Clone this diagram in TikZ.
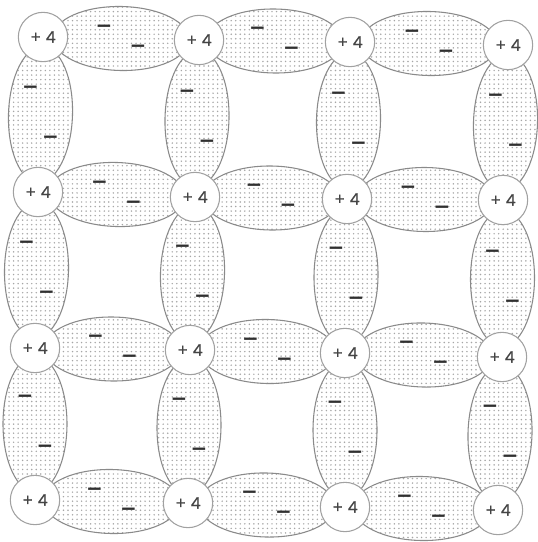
\documentclass[tikz,border=0pt]{standalone}
\usepackage{fontspec}
\newfontfamily\chargefont{Poppins}[FakeBold=0.6]
\newfontfamily\minusfont{DejaVu Sans}
\usetikzlibrary{calc,patterns.meta}
\definecolor{latLine}{HTML}{8A8A8A}
\definecolor{latDots}{HTML}{A6A6A6}
\definecolor{latText}{HTML}{444444}
\definecolor{latMinus}{HTML}{303030}
\pgfdeclarelayer{bonds}
\pgfsetlayers{bonds,main}

% stippled fill of the bonds
\tikzdeclarepattern{
  name=stipple,
  type=uncolored,
  bounding box={(-1.7pt,-1.7pt) and (1.7pt,1.7pt)},
  tile size={(3.4pt,3.4pt)},
  code={\pgfpathcircle{\pgfpointorigin}{0.62pt}\pgfusepath{fill}}
}

\tikzset{
  atom/.style={circle, draw=latLine!80, line width=0.8pt, fill=white,
    minimum size=37pt, inner sep=0pt, text=latText,
    font=\chargefont\fontsize{12}{13}\selectfont},
  bondfill/.style={draw=latLine, line width=0.8pt, preaction={fill=white},
    pattern=stipple, pattern color=latDots},
  electron/.style={inner sep=0pt, text=latMinus,
    font=\minusfont\bfseries\fontsize{15}{15}\selectfont}
}

% covalent bond: a lobe between two atoms holding its electron pair
% #3/#4 = offset of the two electrons from the middle of the lobe
\newcommand\bond[4]{%
  \begin{pgfonlayer}{bonds}
    \draw[bondfill] let \p1=($(#2)-(#1)$), \n1={atan2(\y1,\x1)} in
      ($(#1)!0.5!(#2)$) ellipse [x radius=68, y radius=32, rotate=\n1];
  \end{pgfonlayer}
  \node[electron] (#1#2m) at ($(#1)!0.5!(#2)+(-#3,-#4)$) {−};
  \node[electron] (#1#2p) at ($(#1)!0.5!(#2)+(#3,#4)$) {−};
}

\begin{document}
\begin{tikzpicture}[x=0.75pt, y=-0.75pt]
\useasboundingbox (0,0) rectangle (538,542);

% --- ATOMS (4 x 4 lattice) ---
\foreach \n/\xa/\ya in {a11/43/37, a12/199/40, a13/350/42, a14/508/45,
    a21/38/192, a22/195/197, a23/347/199, a24/503/200,
    a31/35/348, a32/190/350, a33/345/353, a34/502/357,
    a41/35/500, a42/188/503, a43/345/507, a44/498/510}
  \node[atom] (\n) at (\xa,\ya) {+\;4};

% --- HORIZONTAL BONDS ---
\foreach \a/\b in {a11/a12, a12/a13, a13/a14, a21/a22, a22/a23, a23/a24,
    a31/a32, a32/a33, a33/a34, a41/a42, a42/a43, a43/a44}
  \bond{\a}{\b}{17}{10};

% --- VERTICAL BONDS ---
\foreach \a/\b in {a11/a21, a21/a31, a31/a41, a12/a22, a22/a32, a32/a42,
    a13/a23, a23/a33, a33/a43, a14/a24, a24/a34, a34/a44}
  \bond{\a}{\b}{10}{25};

\end{tikzpicture}
\end{document}
